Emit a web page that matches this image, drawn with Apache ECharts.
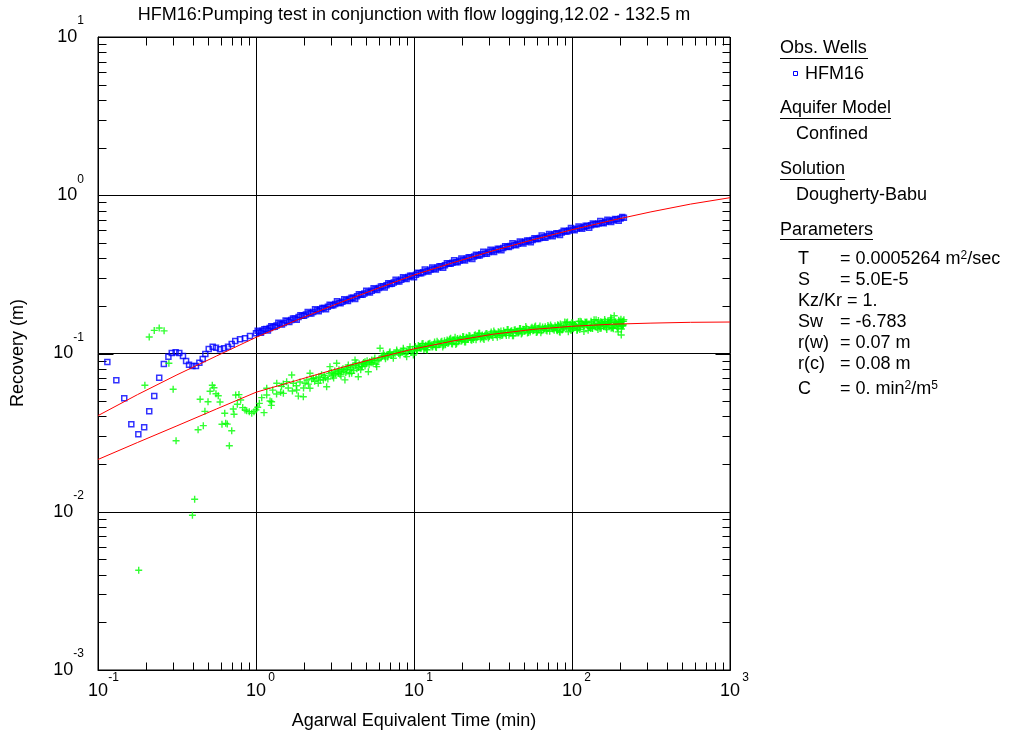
<!DOCTYPE html>
<html>
<head>
<meta charset="utf-8">
<script src="https://cdn.jsdelivr.net/npm/echarts@6/dist/echarts.min.js"></script>
<style>
  html, body { margin: 0; padding: 0; background: #ffffff; }
  #chart { width: 1010px; height: 736px; }
</style>
</head>
<body>
<div id="chart"></div>
<script>
// HFM16 recovery analysis, 12.02 - 132.5 m (log-log plot)
const FONT = '"Liberation Sans", Arial, Helvetica, sans-serif';

// Axis extents and tick layout (decade exponents, minor multipliers)
const X_MIN = 0.1, X_MAX = 1000;
const Y_MIN = 0.001, Y_MAX = 10;
const xDecades = [-1, 0, 1, 2, 3];
const yDecades = [-3, -2, -1, 0, 1];
const minorSteps = [2, 3, 4, 5, 6, 7, 8, 9];

// Observed recovery at HFM16 [time (min), recovery (m)]
const obsEarly = [
  [0.1146,0.0883],[0.1306,0.0678],[0.1466,0.0521],[0.1625,0.0357],[0.180,0.0309],[0.196,0.0342],
  [0.211,0.0431],[0.227,0.0538],[0.244,0.0703],[0.261,0.0859],[0.279,0.0955],[0.293,0.1007],
  [0.310,0.1018],[0.327,0.1007],[0.345,0.0964],[0.361,0.0897],[0.377,0.0850],[0.396,0.0833],
  [0.417,0.0833],[0.438,0.0874],[0.460,0.0923],[0.478,0.0993],[0.502,0.1067],[0.532,0.1104],
  [0.558,0.1088],[0.592,0.1063],[0.627,0.1079],[0.665,0.1104],[0.702,0.1148],[0.739,0.1200],
  [0.792,0.1230],[0.852,0.1248],[0.916,0.1290]
];
const obsLate = [
  [1.00,0.1343],[1.05,0.1368],[1.10,0.1393],[1.16,0.1428],[1.22,0.1449],[1.28,0.1472],[1.35,0.1503],
  [1.42,0.1535],[1.50,0.1559],[1.58,0.1596],[1.67,0.1629],[1.76,0.1663],[1.86,0.1698],[1.96,0.1730],
  [2.07,0.1762],[2.18,0.1795],[2.30,0.1832],[2.43,0.1878],[2.56,0.1901],[2.70,0.1941],[2.85,0.1977],
  [3.00,0.2014],[3.17,0.2056],[3.34,0.2094],[3.52,0.2121],[3.72,0.2173],[3.92,0.2208],[4.13,0.2254],
  [4.36,0.2301],[4.60,0.2350],[4.85,0.2393],[5.12,0.2443],[5.40,0.2495],[5.70,0.2547],[6.00,0.2594],
  [6.35,0.2661],[6.70,0.2704],[7.05,0.2754],[7.45,0.2812],[7.85,0.2864],[8.30,0.2924],[8.75,0.2985],
  [9.20,0.3041],[9.70,0.3097],[10.3,0.3149],[10.8,0.3214],[11.4,0.3266],[12.0,0.3319],[12.7,0.3381],
  [13.4,0.3436],[14.1,0.3491],[14.9,0.3556],[15.7,0.3614],[16.6,0.3694],[17.5,0.3741],[18.4,0.3793],
  [19.4,0.3855],[20.5,0.3917],[21.6,0.3981],[22.8,0.4046],[24.0,0.4102],[25.3,0.4169],[26.7,0.4236],
  [28.2,0.4290],[29.7,0.4375],[31.3,0.4446],[33.0,0.4508],[34.8,0.4581],[36.7,0.4645],[38.8,0.4721],
  [40.9,0.4786],[43.1,0.4864],[45.5,0.4932],[48.0,0.5027],[50.6,0.5082],[53.4,0.5152],[56.3,0.5224],
  [59.4,0.5297],[62.6,0.5370],[66.0,0.5433],[69.7,0.5508],[73.5,0.5585],[77.5,0.5662],[81.7,0.5728],
  [86.2,0.5821],[90.9,0.5902],[95.9,0.5984],[101,0.6067],[107,0.6152],[113,0.6237],[119,0.6310],
  [125,0.6383],[132,0.6457],[139,0.6562],[147,0.6637],[155,0.6714],[163,0.6792],[172,0.6887],
  [182,0.6951],[192,0.7047],[203,0.7129],[213,0.7211]
];
const obsLateB = [
  [1.025,0.1390],[1.075,0.1353],[1.13,0.1425],[1.19,0.1398],[1.25,0.1487],[1.315,0.1476],[1.385,0.1565],
  [1.46,0.1524],[1.54,0.1617],[1.625,0.1580],[1.715,0.1662],[1.81,0.1634],[1.91,0.1745],[2.015,0.1732],
  [2.125,0.1832],[2.24,0.1787],[2.365,0.1901],[2.495,0.1852],[2.63,0.1940],[2.775,0.1904],[2.925,0.2032],
  [3.085,0.2019],[3.255,0.2137],[3.43,0.2076],[3.62,0.2201],[3.82,0.2147],[4.025,0.2253],[4.245,0.2214],
  [4.48,0.2368],[4.725,0.2353],[4.985,0.2491],[5.26,0.2432],[5.55,0.2584],[5.85,0.2519],[6.175,0.2654],
  [6.525,0.2608],[6.875,0.2778],[7.25,0.2761],[7.65,0.2923],[8.075,0.2851],[8.525,0.3029],[8.975,0.2953],
  [9.45,0.3100],[10.0,0.3036],[10.55,0.3239],[11.1,0.3214],[11.7,0.3392],[12.35,0.3300],[13.05,0.3494],
  [13.75,0.3395],[14.5,0.3559],[15.3,0.3485],[16.15,0.3720],[17.05,0.3688],[17.95,0.3880],[18.9,0.3767],
  [19.95,0.3983],[21.05,0.3870],[22.2,0.4054],[23.4,0.3960],[24.65,0.4210],[26.0,0.4169],[27.45,0.4391],
  [28.95,0.4268],[30.5,0.4521],[32.15,0.4387],[33.9,0.4590],[35.75,0.4484],[37.75,0.4767],[39.85,0.4716],
  [42.0,0.4970],[44.3,0.4825],[46.75,0.5104],[49.3,0.4954],[52.0,0.5168],[54.85,0.5043],[57.85,0.5356],
  [61.0,0.5291],[64.3,0.5564],[67.85,0.5389],[71.6,0.5686],[75.5,0.5511],[79.6,0.5752],[83.95,0.5613],
  [88.55,0.5967],[93.4,0.5895],[98.45,0.6207],[104,0.6018],[110,0.6350],[116,0.6148],[122,0.6410],
  [128.5,0.6240],[135.5,0.6627],[143,0.6547],[151,0.6876],[159,0.6652],[167.5,0.7011],[177,0.6781],
  [187,0.7069],[197.5,0.6890],[208,0.7299]
];

// Recovery derivative [time (min), derivative (m)]
const derivEarly = [
  [0.181,0.00427],[0.198,0.0630],[0.211,0.127],[0.227,0.140],[0.244,0.145],[0.262,0.139],[0.281,0.0867],
  [0.299,0.0594],[0.312,0.0281],[0.396,0.0095],[0.409,0.0120],[0.430,0.0330],[0.443,0.0514],[0.464,0.0350],
  [0.475,0.0431],[0.497,0.0496],[0.512,0.0577],[0.529,0.0630],[0.542,0.0608],[0.558,0.0557],[0.577,0.0541],
  [0.592,0.0494],[0.609,0.0357],[0.634,0.0419],[0.643,0.0362],[0.658,0.0358],[0.678,0.0261],[0.702,0.0325],
  [0.718,0.0446],[0.726,0.0413],[0.744,0.0547],[0.762,0.0478],[0.780,0.0550],[0.800,0.0508],[0.824,0.0455],
  [0.852,0.0440],[0.873,0.0434],[0.907,0.0429],[0.940,0.0419],[0.971,0.0429],[1.000,0.0440],[1.025,0.0457],
  [1.050,0.0484],[1.087,0.0526],[1.124,0.0423],[1.169,0.0547],[1.169,0.0603],[1.227,0.0501],[1.256,0.0496],
  [1.276,0.0587],[1.353,0.0649],[1.433,0.0569],[1.488,0.0641],[1.490,0.0560],[1.563,0.0664]
];
const derivMid = [
  [1.683,0.0731],[1.722,0.0649],[1.810,0.0588],[1.853,0.0538],[1.993,0.0533],[2.042,0.0649],[2.196,0.0750],
  [2.196,0.0603],[2.305,0.0697],[2.478,0.0649],[2.666,0.0681],[2.800,0.0617],[2.938,0.0826],[3.084,0.0731],
  [3.240,0.0867],[3.318,0.0750],[3.484,0.0787],[3.655,0.0681],[3.837,0.0845],[4.032,0.0750],[4.234,0.0910],
  [4.440,0.0713],[4.664,0.0826],[4.898,0.0887],[5.142,0.0767],[5.402,0.0910],[5.807,0.0826],[6.096,0.1079],
  [6.400,0.1002],[6.552,0.0955],[7.047,0.1026],[7.397,0.0933],[7.770,0.1052],[8.151,0.0979],[8.556,0.1079],
  [8.987,0.0955],[9.432,0.1104],[9.907,0.0979],
  [1.25,0.0470],[1.35,0.0555],[1.45,0.0620],[1.6,0.0605],[1.7,0.0580],[1.8,0.0625],[1.9,0.0660],[2.0,0.0605],
  [2.1,0.0680],[2.25,0.0690],[2.35,0.0668],[2.5,0.0712],[2.6,0.0735],[2.75,0.0702],[2.9,0.0748],[3.05,0.0720],
  [3.15,0.0775],[3.3,0.0765],[3.4,0.0740],[3.55,0.0800],[3.7,0.0758],[3.8,0.0815],[3.95,0.0790],[4.1,0.0835],
  [4.25,0.0842],[4.35,0.0800],[4.5,0.0858],[4.7,0.0830],[4.8,0.0877],[5.0,0.0860],[5.25,0.0890],[5.5,0.0870],
  [5.65,0.0935],[5.9,0.0900],[6.2,0.0940],[6.5,0.0975],[6.8,0.0950],[7.2,0.0970],[7.6,0.1005],[8.0,0.1000],
  [8.4,0.1030],[8.8,0.0990],[9.2,0.1045],[9.6,0.1020],
  [2.15,0.0640],[2.4,0.0700],[2.55,0.0680],[2.7,0.0725],[2.85,0.0690],[3.0,0.0760],[3.1,0.0700],[3.2,0.0745],
  [3.35,0.0790],[3.45,0.0720],[3.6,0.0770],[3.75,0.0795],[3.9,0.0745],[4.0,0.0820],[4.15,0.0780],[4.3,0.0870],
  [4.45,0.0815],[4.6,0.0790],[4.75,0.0860],[4.9,0.0835],[5.05,0.0900],[5.2,0.0850],[5.35,0.0875],[5.6,0.0905],
  [5.75,0.0855],[6.0,0.0920],[6.3,0.0965],[6.6,0.0925],[6.9,0.0985],[7.0,0.1010],[7.4,0.0990],[7.8,0.1025],
  [8.2,0.1010],[8.6,0.1050],[9.0,0.1025],[9.4,0.1060],[9.8,0.1040]
];
const derivLate = [
  [10.2,0.1108],[10.4,0.1052],[10.5,0.1040],[10.8,0.1103],[10.9,0.1104],[11.1,0.1078],[11.4,0.1157],
  [11.7,0.1099],[11.74,0.1079],[12.0,0.1058],[12.3,0.1140],[12.33,0.1148],[12.6,0.1161],[13.0,0.1100],
  [13.3,0.1139],[13.7,0.1098],[14.0,0.1197],[14.4,0.1138],[14.8,0.1180],[15.2,0.1101],[15.6,0.1205],
  [16.0,0.1175],[16.4,0.1155],[16.8,0.1232],[17.3,0.1154],[17.7,0.1214],[18.2,0.1268],[18.6,0.1156],
  [19.1,0.1209],[19.6,0.1249],[20.1,0.1206],[20.6,0.1274],[21.2,0.1181],[21.7,0.1254],[22.3,0.1301],
  [22.9,0.1220],[23.5,0.1249],[24.1,0.1298],[24.7,0.1223],[25.4,0.1297],[26.0,0.1341],[26.7,0.1269],
  [27.4,0.1248],[28.1,0.1306],[28.9,0.1339],[29.6,0.1255],[30.4,0.1330],[31.2,0.1297],[32.0,0.1388],
  [32.8,0.1317],[33.7,0.1265],[34.6,0.1362],[35.5,0.1385],[36.4,0.1308],[37.4,0.1353],[38.4,0.1301],
  [39.4,0.1416],[40.4,0.1347],[41.5,0.1392],[42.6,0.1296],[43.7,0.1415],[44.8,0.1378],[46.0,0.1353],
  [47.2,0.1441],[48.4,0.1346],[49.7,0.1419],[51.0,0.1479],[52.3,0.1346],[53.7,0.1403],[55.1,0.1445],
  [56.5,0.1392],[58.0,0.1468],[59.5,0.1358],[61.1,0.1441],[62.7,0.1490],[64.3,0.1394],[66.0,0.1423],
  [67.7,0.1476],[69.5,0.1387],[71.3,0.1468],[73.2,0.1516],[75.1,0.1431],[77.1,0.1405],[79.1,0.1467],
  [81.2,0.1521],[82.2,0.1502],[83.3,0.1374],[85.5,0.1492],[86.6,0.1408],[87.7,0.1435],[90.0,0.1583],
  [91.2,0.1493],[92.4,0.1462],[94.8,0.1372],[96.0,0.1458],[97.3,0.1530],[99.8,0.1565],[100.5,0.1439],
  [101,0.1561],[102,0.1432],[105,0.1501],[106.5,0.1480],[108,0.1410],[110,0.1593],[111,0.1514],
  [112,0.1420],[113,0.1470],[116,0.1539],[117.5,0.1528],[119,0.1377],[121,0.1583],[122,0.1571],
  [123.5,0.1557],[125,0.1505],[128,0.1460],[130,0.1470],[132,0.1600],[134,0.1445],[135,0.1438],
  [137,0.1519],[139,0.1544],[142,0.1637],[144,0.1460],[146,0.1418],[148,0.1508],[150,0.1506],
  [152,0.1586],[154,0.1572],[156,0.1554],[158,0.1479],[160,0.1504],[162,0.1597],[164,0.1495],
  [166,0.1416],[168,0.1552],[170,0.1545],[172,0.1575],[175,0.1622],[176,0.1680],[177,0.1444],
  [179,0.1466],[181,0.1456],[184,0.1509],[185,0.1733],[186.5,0.1576],[189,0.1590],[191,0.1545],
  [194,0.1445],[196,0.1370],[196.5,0.1532],[199,0.1570],[201,0.1598],[204,0.1644],[205,0.1310],
  [206,0.1503],[207,0.1494],[209,0.1504],[211,0.1522],[212,0.1598]
];
const derivLateB = [
  [10.35,0.1049],[10.65,0.1125],[10.95,0.1082],[11.25,0.1154],[11.55,0.1061],[11.85,0.1127],[12.15,0.1054],
  [12.45,0.1148],[12.8,0.1125],[13.15,0.1103],[13.5,0.1181],[13.85,0.1091],[14.2,0.1171],[14.6,0.1138],
  [15.0,0.1196],[15.4,0.1126],[15.8,0.1137],[16.2,0.1219],[16.6,0.1171],[17.05,0.1248],[17.5,0.1147],
  [17.95,0.1218],[18.4,0.1140],[18.85,0.1242],[19.35,0.1218],[19.85,0.1194],[20.35,0.1279],[20.9,0.1180],
  [21.45,0.1266],[22.0,0.1227],[22.6,0.1290],[23.2,0.1213],[23.8,0.1225],[24.4,0.1312],[25.05,0.1261],
  [25.7,0.1343],[26.35,0.1233],[27.05,0.1309],[27.75,0.1224],[28.5,0.1333],[29.25,0.1306],[30.0,0.1279],
  [30.8,0.1369],[31.6,0.1261],[32.4,0.1350],[33.25,0.1308],[34.15,0.1372],[35.05,0.1289],[35.95,0.1300],
  [36.9,0.1391],[37.9,0.1335],[38.9,0.1420],[39.9,0.1304],[40.95,0.1384],[42.05,0.1293],[43.15,0.1406],
  [44.25,0.1376],[45.4,0.1346],[46.6,0.1439],[47.8,0.1326],[49.05,0.1423],[50.35,0.1380],[51.65,0.1446],
  [53.0,0.1359],[54.4,0.1369],[55.8,0.1465],[57.25,0.1405],[58.75,0.1494],[60.3,0.1369],[61.9,0.1450],
  [63.5,0.1352],[65.15,0.1470],[66.85,0.1437],[68.6,0.1404],[70.4,0.1501],[72.25,0.1381],[74.15,0.1478],
  [76.1,0.1430],[78.1,0.1499],[80.15,0.1407],
  [80.7,0.1393],[84.4,0.1538],[88.9,0.1450],[93.6,0.1581],[98.6,0.1396],[103.5,0.1525],[109,0.1439],
  [114.5,0.1585],[120,0.1500],[126.5,0.1401],[133,0.1569],[140.5,0.1475],[147,0.1615],[153,0.1442],
  [157,0.1543],[161,0.1643],[165,0.1454],[169,0.1600],[173.5,0.1502],[178,0.1634],[182.5,0.1436],
  [187.5,0.1568],[192.5,0.1477],[197.5,0.1625],[202.5,0.1534],[205.5,0.1428],[208,0.1597],[210,0.1498],
  [213,0.1637],[150.5,0.1441],[145,0.1538],[138,0.1633],[131,0.1440],[124,0.1579],[118,0.1476],
  [112.5,0.1599],[107.5,0.1402],[103,0.1525],[97.5,0.1432],[92,0.1565],[88,0.1471],[84,0.1362]
];

// Dougherty-Babu type curve and its derivative
const fitTime       = [0.1, 0.178, 0.316, 0.562, 1, 1.78, 3.16, 5.62, 10, 17.8, 31.6, 56.2, 100, 178, 316, 562, 1000];
const fitRecovery   = [0.0405, 0.0550, 0.0733, 0.0964, 0.1265, 0.1614, 0.2037, 0.2535, 0.3133, 0.3758, 0.4457, 0.5224, 0.6053, 0.6934, 0.7852, 0.8790, 0.965];
const fitDerivative = [0.0214, 0.0274, 0.0349, 0.0446, 0.0569, 0.0673, 0.0794, 0.0929, 0.1070, 0.1202, 0.1324, 0.1419, 0.1486, 0.1531, 0.1556, 0.1574, 0.1581];

// Inward tick marks on all four sides: [x, y, side, length]
function buildTicks() {
  const ticks = [];
  xDecades.forEach((e, i) => {
    const base = Math.pow(10, e);
    ticks.push([base, Y_MIN, 0, 15], [base, Y_MAX, 1, 15]);
    if (i < xDecades.length - 1) {
      minorSteps.forEach(m => ticks.push([m * base, Y_MIN, 0, 8], [m * base, Y_MAX, 1, 8]));
    }
  });
  yDecades.forEach((e, i) => {
    const base = Math.pow(10, e);
    ticks.push([X_MIN, base, 2, 15], [X_MAX, base, 3, 15]);
    if (i < yDecades.length - 1) {
      minorSteps.forEach(m => ticks.push([X_MIN, m * base, 2, 8], [X_MAX, m * base, 3, 8]));
    }
  });
  return ticks;
}

function exponentOf(v) { return Math.round(Math.log10(v)); }

const textStyle = { fontFamily: FONT, fontSize: 18, fill: '#000' };
function label(x, y, text, rich) {
  const style = Object.assign({}, textStyle, {
    x: x, y: y, text: text, align: 'left', textAlign: 'left',
    verticalAlign: 'middle', textVerticalAlign: 'middle', lineHeight: 18
  });
  if (rich) style.rich = rich;
  return { type: 'text', silent: true, style: style };
}
function underline(x1, x2, y) {
  return { type: 'line', silent: true, shape: { x1: x1, y1: y, x2: x2, y2: y }, style: { stroke: '#000', lineWidth: 1 } };
}
const supRich = { sup: { fontFamily: FONT, fontSize: 12, lineHeight: 6, verticalAlign: 'top', fill: '#000' } };

const VAL_X = 840;   // column of "= value" in the parameter list

const chart = echarts.init(document.getElementById('chart'), null, { renderer: 'canvas' });

const option = {
  animation: false,
  backgroundColor: '#ffffff',
  grid: {
    left: 98, top: 37, right: 280, bottom: 66,
    containLabel: false, outerBoundsMode: 'none',
    show: true, borderColor: '#000', borderWidth: 1, backgroundColor: 'transparent'
  },
  xAxis: {
    type: 'log', logBase: 10, min: X_MIN, max: X_MAX,
    axisLine: { show: true, lineStyle: { color: '#000', width: 1 } },
    axisTick: { show: false },
    minorTick: { show: false },
    splitLine: { show: true, lineStyle: { color: '#000', width: 1 } },
    axisLabel: {
      margin: 2, color: '#000', fontFamily: FONT, fontSize: 18,
      formatter: v => '{s|}{b|10}{e|' + exponentOf(v) + '}',
      rich: {
        s: { width: 11, lineHeight: 28 },
        b: { fontFamily: FONT, fontSize: 18, lineHeight: 18, verticalAlign: 'bottom', color: '#000' },
        e: { fontFamily: FONT, fontSize: 12, lineHeight: 12, verticalAlign: 'top', width: 11, color: '#000' }
      }
    }
  },
  yAxis: {
    type: 'log', logBase: 10, min: Y_MIN, max: Y_MAX,
    axisLine: { show: true, lineStyle: { color: '#000', width: 1 } },
    axisTick: { show: false },
    minorTick: { show: false },
    splitLine: { show: true, lineStyle: { color: '#000', width: 1 } },
    axisLabel: {
      margin: 14, color: '#000', fontFamily: FONT, fontSize: 18,
      formatter: v => '{s|}{b|10}{e|' + exponentOf(v) + '}',
      rich: {
        s: { width: 0, lineHeight: 44 },
        b: { fontFamily: FONT, fontSize: 18, lineHeight: 18, verticalAlign: 'middle', color: '#000' },
        e: { fontFamily: FONT, fontSize: 12, lineHeight: 22, verticalAlign: 'top', color: '#000' }
      }
    }
  },
  series: [
    {
      name: 'ticks', type: 'custom', silent: true, clip: false,
      data: buildTicks(),
      renderItem: (params, api) => {
        const p = api.coord([api.value(0), api.value(1)]);
        const side = api.value(2), len = api.value(3);
        const x = Math.round(p[0]) + 0.5, y = Math.round(p[1]) + 0.5;
        let x2 = x, y2 = y;
        if (side === 0) y2 = y - len;
        else if (side === 1) y2 = y + len;
        else if (side === 2) x2 = x + len;
        else x2 = x - len;
        return { type: 'line', shape: { x1: x, y1: y, x2: x2, y2: y2 }, style: { stroke: '#000', lineWidth: 1 } };
      }
    },
    {
      name: 'HFM16', type: 'scatter', silent: true,
      data: obsEarly.concat(obsLate, obsLateB),
      symbol: 'rect', symbolSize: 5,
      itemStyle: { color: 'rgba(0,0,0,0)', borderColor: '#0000ff', borderWidth: 1.5 }
    },
    {
      name: 'HFM16 derivative', type: 'scatter', silent: true,
      data: derivEarly.concat(derivMid, derivLate, derivLateB),
      symbol: 'path://M2.8,0H4.2V2.8H7V4.2H4.2V7H2.8V4.2H0V2.8H2.8Z', symbolSize: 7,
      itemStyle: { color: '#00ff00' }
    },
    {
      name: 'Dougherty-Babu', type: 'line', silent: true, showSymbol: false,
      data: fitTime.map((t, i) => [t, fitRecovery[i]]),
      lineStyle: { color: '#ff0000', width: 1 }
    },
    {
      name: 'Dougherty-Babu derivative', type: 'line', silent: true, showSymbol: false,
      data: fitTime.map((t, i) => [t, fitDerivative[i]]),
      lineStyle: { color: '#ff0000', width: 1 }
    }
  ],
  graphic: [
    { type: 'text', silent: true, style: Object.assign({}, textStyle, {
        x: 414, y: 15, text: 'HFM16:Pumping test in conjunction with flow logging,12.02 - 132.5 m',
        align: 'center', textAlign: 'center', verticalAlign: 'middle', textVerticalAlign: 'middle' }) },
    { type: 'text', silent: true, style: Object.assign({}, textStyle, {
        x: 414, y: 721, text: 'Agarwal Equivalent Time (min)',
        align: 'center', textAlign: 'center', verticalAlign: 'middle', textVerticalAlign: 'middle' }) },
    { type: 'text', silent: true, x: 18, y: 353, rotation: Math.PI / 2, style: Object.assign({}, textStyle, {
        x: 0, y: 0, text: 'Recovery (m)',
        align: 'center', textAlign: 'center', verticalAlign: 'middle', textVerticalAlign: 'middle' }) },

    label(780, 48, 'Obs. Wells'), underline(780, 868, 58.5),
    { type: 'rect', silent: true, shape: { x: 793.5, y: 71.5, width: 4, height: 4 },
      style: { fill: 'none', stroke: '#0000ff', lineWidth: 1 } },
    label(805, 74.5, 'HFM16'),
    label(780, 108, 'Aquifer Model'), underline(780, 891, 118.5),
    label(796, 134.5, 'Confined'),
    label(780, 169, 'Solution'), underline(780, 845, 179.5),
    label(796, 195.5, 'Dougherty-Babu'),
    label(780, 230, 'Parameters'), underline(780, 873, 239.5),

    label(798, 259, 'T'),      label(VAL_X, 259, '= 0.0005264 m{sup|2}/sec', supRich),
    label(798, 280.5, 'S'),    label(VAL_X, 280.5, '= 5.0E-5'),
    label(798, 301.5, 'Kz/Kr = 1.'),
    label(798, 322, 'Sw'),     label(VAL_X, 322, '= -6.783'),
    label(798, 343.5, 'r(w)'), label(VAL_X, 343.5, '= 0.07 m'),
    label(798, 364, 'r(c)'),   label(VAL_X, 364, '= 0.08 m'),
    label(798, 389, 'C'),      label(VAL_X, 389, '= 0. min{sup|2}/m{sup|5}', supRich)
  ]
};

chart.setOption(option);
</script>
</body>
</html>
